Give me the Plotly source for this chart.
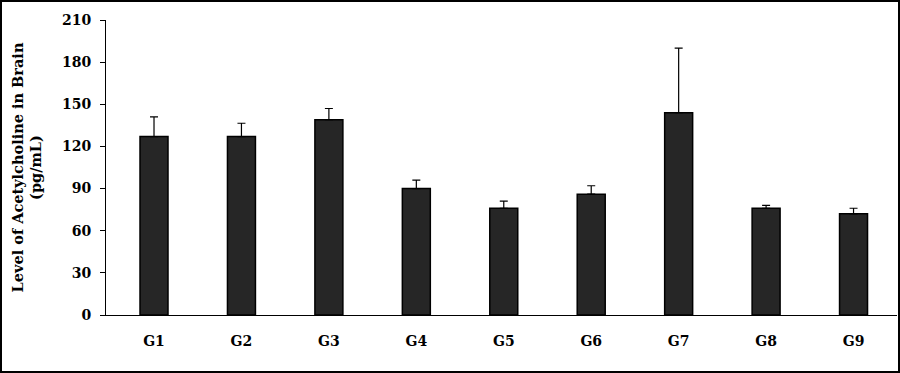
import plotly.graph_objects as go

groups = ["G1", "G2", "G3", "G4", "G5", "G6", "G7", "G8", "G9"]
values = [127, 127, 139, 90, 76, 86, 144, 76, 72]
errors = [14, 9.5, 8, 6, 5, 6, 46, 2, 4]
y_ticks = [0, 30, 60, 90, 120, 150, 180, 210]

W, H = 900, 373
L, R, T, B = 106, 3, 20, 58
pw, ph = W - L - R, H - T - B

font_fam = "DejaVu Serif, Liberation Serif, serif"

fig = go.Figure()
fig.add_trace(go.Bar(
    x=groups, y=values, width=0.32,
    marker=dict(color="#262626", line=dict(color="#000000", width=1.5)),
    error_y=dict(type="data", array=errors, arrayminus=[0] * len(errors),
                 symmetric=False, color="#000000", thickness=1.2, width=4),
    showlegend=False,
))

fig.update_layout(
    width=W, height=H,
    margin=dict(l=L, r=R, t=T, b=B, pad=0),
    paper_bgcolor="white", plot_bgcolor="white",
    font=dict(family=font_fam, size=14, color="#000000", weight="bold"),
    xaxis=dict(range=[-0.549, 8.497], showline=True, linecolor="#000000", linewidth=1,
               ticks="", showgrid=False, zeroline=False,
               tickfont=dict(family=font_fam, size=14, weight="bold"), ticklabelstandoff=13),
    yaxis=dict(range=[0, 210], tickvals=y_ticks, showline=True, linecolor="#000000", linewidth=1,
               ticks="outside", ticklen=5, tickcolor="#000000", showgrid=False, zeroline=False,
               ticklabelstandoff=6,
               tickfont=dict(family=font_fam, size=14, weight="bold"),
               title=dict(text="Level of Acetylcholine in Brain<br>(pg/mL)",
                          font=dict(family=font_fam, size=14.5, weight="bold"), standoff=16)),
    shapes=[dict(type="rect", xref="paper", yref="paper",
                 x0=(1 - L) / pw, x1=(W - 1 - L) / pw,
                 y0=(H - B - (H - 1)) / ph, y1=(H - B - 1) / ph,
                 line=dict(color="#000000", width=2), fillcolor="rgba(0,0,0,0)", layer="above")],
)

fig.write_html("out.html", config={"displayModeBar": False},
               post_script="document.body.style.margin='0';document.body.style.overflow='hidden';")
